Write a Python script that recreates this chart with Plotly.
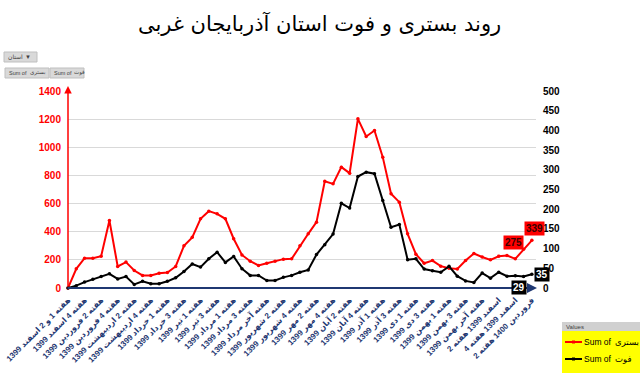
import plotly.graph_objects as go

week_labels = [
    "هفته 1 و 2 اسفند 1399", "هفته 4 اسفند 1399", "هفته 2 فروردین 1399", "هفته 4 فروردین 1399",
    "هفته 2 اردیبهشت 1399", "هفته 4 اردیبهشت 1399", "هفته 1 خرداد 1399", "هفته 3 خرداد 1399",
    "هفته 1 تیر 1399", "هفته 3 تیر 1399", "هفته 1 مرداد 1399", "هفته 3 مرداد 1399",
    "هفته آخر مرداد 1399", "هفته 2 شهریور 1399", "هفته 4 شهریور 1399", "هفته 2 مهر 1399",
    "هفته 4 مهر 1399", "هفته 2 آبان 1399", "هفته 4 آبان 1399", "هفته 1 آذر 1399",
    "هفته 3 آذر 1399", "هفته 1 دی 1399", "هفته 3 دی 1399", "هفته 1 بهمن 1399",
    "هفته 3 بهمن 1399", "هفته آخر بهمن 1399", "اسفند 1399 هفته 2", "اسفند 1399 هفته 4",
    "فروردین 1400 هفته 2",
]

hospitalized = [0, 136, 212, 212, 226, 480, 153, 184, 124, 89, 89, 105, 110, 153, 300,
                360, 492, 546, 527, 492, 350, 235, 190, 160, 176, 190, 205, 207, 300, 385,
                468, 759, 740, 859, 816, 1202, 1077, 1119, 930, 670, 610, 385, 240, 176, 195,
                155, 140, 135, 195, 245, 220, 200, 225, 231, 207, 275, 339]

deaths = [0, 6, 15, 22, 29, 36, 23, 29, 9, 17, 11, 11, 17, 26, 42,
          61, 53, 74, 91, 65, 80, 49, 32, 32, 19, 19, 27, 32, 40, 46,
          85, 110, 137, 215, 203, 283, 294, 290, 222, 154, 161, 72, 74, 48, 44,
          40, 55, 30, 18, 14, 38, 25, 40, 30, 31, 29, 35]

idx = list(range(len(hospitalized)))
tick_idx = idx[::2]

W, H = 640, 376
L, R, T, B = 68, 104, 91, 88
PW, PH = W - L - R, H - T - B


def px(x):
    return (x - L) / PW


def py(y):
    return (H - B - y) / PH


FONT = "Liberation Sans, DejaVu Sans, Arial"
NAVY = "#1F3872"

fig = go.Figure()
fig.add_trace(go.Scatter(x=idx, y=hospitalized, mode="lines+markers", name="Sum of بستری",
                         line=dict(color="#FF0000", width=2), marker=dict(size=3.5, color="#FF0000"),
                         cliponaxis=False))
fig.add_trace(go.Scatter(x=idx, y=deaths, mode="lines+markers", name="Sum of فوت", yaxis="y2",
                         line=dict(color="#000000", width=2), marker=dict(size=3.5, color="#000000"),
                         cliponaxis=False))

fig.update_layout(
    width=W, height=H, margin=dict(l=L, r=R, t=T, b=B),
    paper_bgcolor="white", plot_bgcolor="white", showlegend=False,
    font=dict(family=FONT),
    xaxis=dict(range=[0, 56.5], tickmode="array", tickvals=tick_idx, ticktext=week_labels,
               tickangle=-45, tickfont=dict(size=8, color=NAVY, family=FONT, weight="bold"),
               ticklabeloverflow="allow", automargin=False, ticklabelstandoff=5,
               showgrid=False, zeroline=False, showline=False, ticks="", fixedrange=True),
    yaxis=dict(range=[0, 1400], dtick=200, tickfont=dict(size=10, color="#FF0000", weight="bold"),
               showgrid=True, gridcolor="#D9D9D9", gridwidth=1, zeroline=False, showline=False,
               ticks="", ticklabelstandoff=6, automargin=False),
    yaxis2=dict(range=[0, 500], dtick=50, overlaying="y", side="right",
                tickfont=dict(size=10, color="#000000", weight="bold"), showgrid=False, zeroline=False,
                showline=False, ticks="", ticklabelstandoff=6, automargin=False),
)


def txt(text, x, y, size, color="#000000", xanchor="center", family=FONT, **kw):
    return dict(text=text, x=px(x), y=py(y), xref="paper", yref="paper", showarrow=False,
                xanchor=xanchor, yanchor="middle", font=dict(size=size, color=color, family=family), **kw)


annotations = [txt("روند بستری و فوت استان آذربایجان غربی", 319, 23, 21, family="DejaVu Sans")]
# axis arrows
annotations.append(dict(x=0, y=py(86), xref="paper", yref="paper", ax=0, ay=202,
                        axref="pixel", ayref="pixel", showarrow=True, arrowhead=2,
                        arrowsize=1, arrowwidth=1.5, arrowcolor="#FF0000", text=""))
annotations.append(dict(x=px(537), y=0, xref="paper", yref="paper", ax=-471, ay=0,
                        showarrow=True, arrowhead=2, arrowsize=1, arrowwidth=2,
                        arrowcolor=NAVY, text=""))
# data labels
annotations.append(dict(x=idx[-1], y=hospitalized[-1], xref="x", yref="y", text="<b>%d</b>" % hospitalized[-1],
                        xshift=3, yshift=12, bgcolor="#FF0000", font=dict(size=10, color="#3A0000"),
                        showarrow=False, borderpad=1))
annotations.append(dict(x=idx[-2], y=hospitalized[-2], xref="x", yref="y", text="<b>%d</b>" % hospitalized[-2],
                        xshift=-10, yshift=7, bgcolor="#FF0000", font=dict(size=10, color="#3A0000"),
                        showarrow=False, borderpad=1))
annotations.append(dict(x=idx[-1], y=deaths[-1], xref="x", yref="y2", text="<b>%d</b>" % deaths[-1],
                        xshift=10, yshift=0, bgcolor="#000000", font=dict(size=10, color="white"),
                        showarrow=False, borderpad=1))
annotations.append(dict(x=idx[-2], y=deaths[-2], xref="x", yref="y2", text="<b>%d</b>" % deaths[-2],
                        xshift=-5, yshift=-11, bgcolor="#000000", font=dict(size=10, color="white"),
                        showarrow=False, borderpad=1))

shapes = []


def rect(x0, y0, x1, y1, fill, line=None):
    return dict(type="rect", xref="paper", yref="paper", x0=px(x0), x1=px(x1), y0=py(y1), y1=py(y0),
                fillcolor=fill, line=line or dict(width=0))


# pivot field buttons
btn_line = dict(color="#BFBFBF", width=1)
shapes.append(rect(4, 52, 37, 62, "#D9D9D9", btn_line))
shapes.append(rect(5, 68, 49, 78, "#D9D9D9", btn_line))
shapes.append(rect(50, 68, 84, 78, "#D9D9D9", btn_line))
annotations.append(txt("استان", 15, 57, 6, "#404040"))
annotations.append(txt("▼", 28, 57, 6, "#404040"))
annotations.append(txt("Sum of", 7, 73, 5.5, "#404040", xanchor="left"))
annotations.append(txt("بستری", 28, 73, 5.5, "#404040", xanchor="left"))
annotations.append(txt("Sum of", 52, 73, 5.5, "#404040", xanchor="left"))
annotations.append(txt("فوت", 72, 73, 5.5, "#404040", xanchor="left"))

# legend box
shapes.append(rect(562, 322, 641, 331, "#D0D0D0"))
shapes.append(rect(562, 331, 641, 373, "#FFFF00"))
annotations.append(txt("Values", 564, 326.5, 6, "#404040", xanchor="left"))
for yy, col, word in [(342, "#FF0000", "بستری"), (359, "#000000", "فوت")]:
    shapes.append(dict(type="line", xref="paper", yref="paper", x0=px(565), x1=px(582), y0=py(yy), y1=py(yy),
                       line=dict(color=col, width=2)))
    shapes.append(rect(572, yy - 1.5, 575, yy + 1.5, col))
    annotations.append(txt("Sum of", 582, yy, 8.5, xanchor="left"))
    annotations.append(txt(word, 613, yy, 8.5, xanchor="left"))

fig.update_layout(annotations=annotations, shapes=shapes)
fig.write_html("out.html")
